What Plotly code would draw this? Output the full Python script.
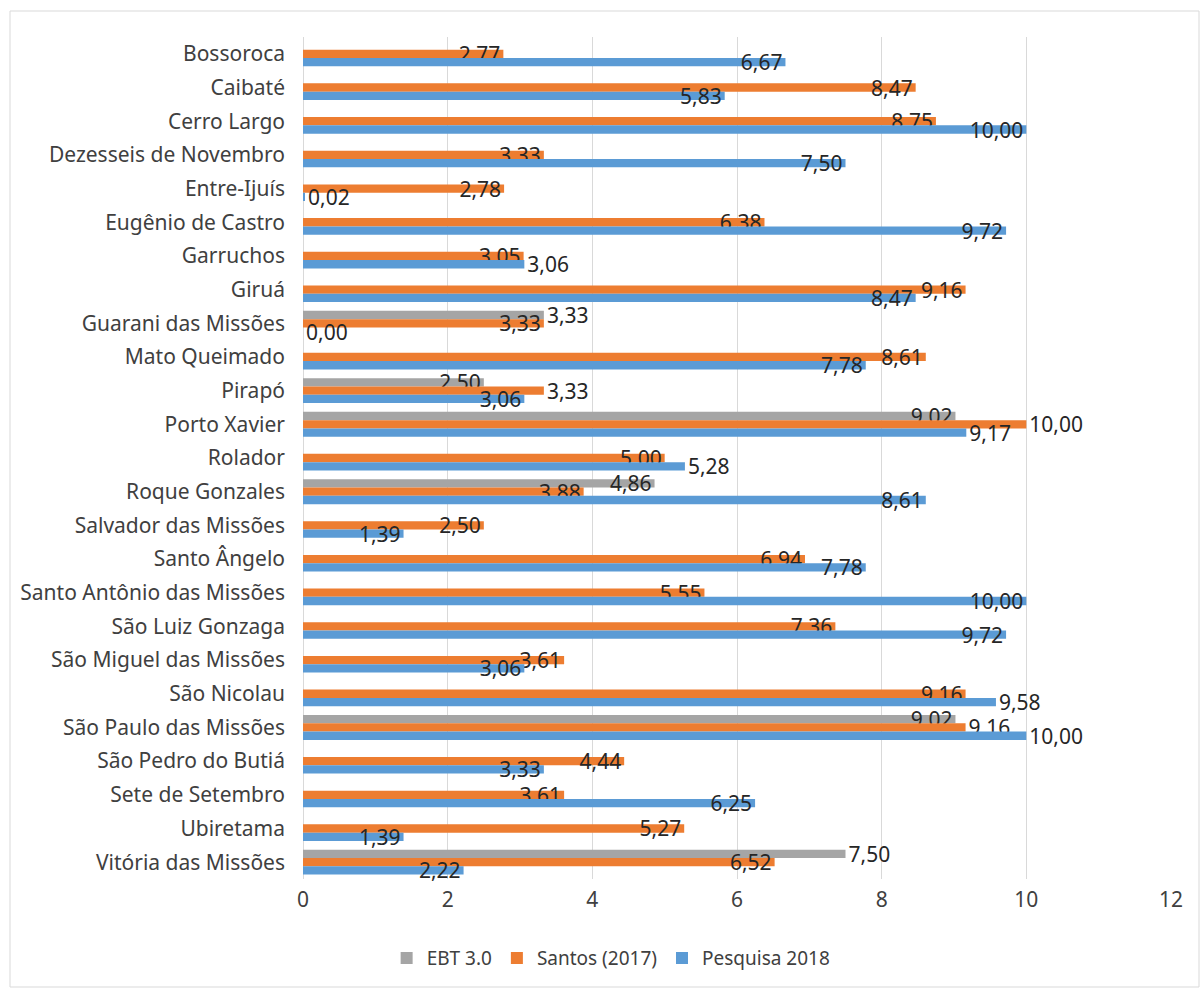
import plotly.graph_objects as go

municipios = [
    "Bossoroca", "Caibaté", "Cerro Largo", "Dezesseis de Novembro", "Entre-Ijuís",
    "Eugênio de Castro", "Garruchos", "Giruá", "Guarani das Missões", "Mato Queimado",
    "Pirapó", "Porto Xavier", "Rolador", "Roque Gonzales", "Salvador das Missões",
    "Santo Ângelo", "Santo Antônio das Missões", "São Luiz Gonzaga", "São Miguel das Missões",
    "São Nicolau", "São Paulo das Missões", "São Pedro do Butiá", "Sete de Setembro",
    "Ubiretama", "Vitória das Missões",
]

ebt = [None, None, None, None, None, None, None, None, 3.33, None,
       2.50, 9.02, None, 4.86, None, None, None, None, None, None,
       9.02, None, None, None, 7.50]
santos = [2.77, 8.47, 8.75, 3.33, 2.78, 6.38, 3.05, 9.16, 3.33, 8.61,
          3.33, 10.00, 5.00, 3.88, 2.50, 6.94, 5.55, 7.36, 3.61, 9.16,
          9.16, 4.44, 3.61, 5.27, 6.52]
pesquisa = [6.67, 5.83, 10.00, 7.50, 0.02, 9.72, 3.06, 8.47, 0.00, 7.78,
            3.06, 9.17, 5.28, 8.61, 1.39, 7.78, 10.00, 9.72, 3.06, 9.58,
            10.00, 3.33, 6.25, 1.39, 2.22]

# label placement (style), per point
ebt_pos = ["inside"] * 25
for i in (8, 24):
    ebt_pos[i] = "outside"
santos_pos = ["inside"] * 25
for i in (10, 11, 20):
    santos_pos[i] = "outside"
pesquisa_pos = ["inside"] * 25
for i in (4, 6, 8, 11, 12, 19, 20):
    pesquisa_pos[i] = "outside"


def fmt(vals):
    return ["" if v is None else f"{v:.2f}".replace(".", ",") for v in vals]


FONT = "Noto Sans, DejaVu Sans, sans-serif"
LABEL_COLOR = "#262626"

series = [
    ("EBT 3.0", ebt, ebt_pos, "#A5A5A5"),
    ("Santos (2017)", santos, santos_pos, "#ED7D31"),
    ("Pesquisa 2018", pesquisa, pesquisa_pos, "#5B9BD5"),
]

fig = go.Figure()
for name, vals, pos, color in series:
    fig.add_trace(go.Bar(
        name=name,
        y=municipios,
        x=vals,
        orientation="h",
        marker=dict(color=color, line=dict(width=0)),
        text=fmt(vals),
        textposition=pos,
        insidetextanchor="end",
        constraintext="none",
        cliponaxis=False,
        textfont=dict(family=FONT, size=21, color=LABEL_COLOR),
        insidetextfont=dict(family=FONT, size=21, color=LABEL_COLOR),
        outsidetextfont=dict(family=FONT, size=21, color=LABEL_COLOR),
        hoverinfo="x+y+name",
    ))

fig.update_layout(
    width=1200,
    height=990,
    barmode="group",
    bargap=0.26,
    bargroupgap=0,
    paper_bgcolor="white",
    plot_bgcolor="white",
    margin=dict(l=303, r=29, t=37, b=111),
    font=dict(family=FONT, size=21, color="#404040"),
    showlegend=True,
    legend=dict(
        orientation="h",
        x=0.355, xanchor="center",
        y=-0.094, yanchor="middle",
        font=dict(family=FONT, size=19, color="#404040"),
        traceorder="normal",
        itemwidth=30,
    ),
    xaxis=dict(
        range=[0, 12],
        dtick=2,
        tick0=0,
        showgrid=True,
        gridcolor="#D9D9D9",
        gridwidth=1,
        zeroline=True,
        zerolinecolor="#D9D9D9",
        zerolinewidth=1,
        showline=False,
        ticks="",
        ticklabelstandoff=6,
        tickfont=dict(family=FONT, size=21, color="#404040"),
        fixedrange=True,
    ),
    yaxis=dict(
        autorange="reversed",
        type="category",
        showgrid=False,
        zeroline=False,
        showline=False,
        ticks="",
        ticklabelstandoff=17,
        tickfont=dict(family=FONT, size=21, color="#404040"),
        fixedrange=True,
    ),
    shapes=[
        dict(
            type="rect", xref="paper", yref="paper",
            x0=(10 - 303) / 868, x1=(1199 - 303) / 868,
            y0=(879 - 987) / 842, y1=(879 - 11) / 842,
            line=dict(color="#D9D9D9", width=1),
            fillcolor="rgba(0,0,0,0)",
            layer="below",
        )
    ],
)

fig.write_html("out.html")
